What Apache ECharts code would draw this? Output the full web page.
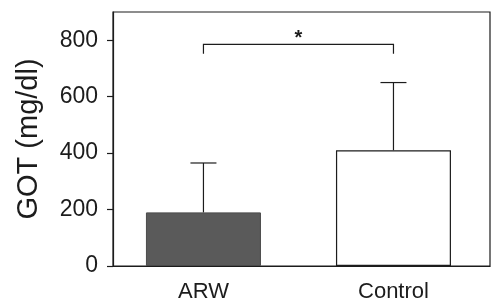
<!DOCTYPE html>
<html>
<head>
<meta charset="utf-8">
<script src="https://cdn.jsdelivr.net/npm/echarts@6/dist/echarts.min.js"></script>
<style>html,body{margin:0;padding:0;background:#fff}#c{width:491px;height:306px}</style>
</head>
<body>
<div id="c"></div>
<script>
const categories = ['ARW', 'Control'];
const means = [190, 410];
const sds = [175, 240];
const yTicks = [0, 200, 400, 600, 800];
const bracket = [0, 1, 785, 752]; // from, to, top value, drop value
const sigLabel = '*';

const chart = echarts.init(document.getElementById('c'), null, {renderer: 'canvas'});
const ink = '#1c1c1c';
const font = 'Liberation Sans, Arial, sans-serif';
const catIdx = categories.map((c, i) => i);
chart.setOption({
  animation: false,
  grid: {left: 113, right: 1, top: 12, bottom: 40, show: true, borderColor: ink, borderWidth: 1.2, backgroundColor: 'transparent'},
  xAxis: {
    type: 'value', min: -0.476, max: 1.508,
    axisLine: {show: true, onZero: false, lineStyle: {color: ink, width: 1.2}},
    axisTick: {show: false},
    splitLine: {show: false},
    axisLabel: {color: ink, fontSize: 22, fontFamily: font, margin: 15, customValues: catIdx,
      formatter: v => categories[Math.round(v)] || ''}
  },
  yAxis: {
    type: 'value', min: 0, max: 900,
    name: 'GOT (mg/dl)', nameLocation: 'middle', nameGap: 70,
    nameTextStyle: {color: ink, fontSize: 29, fontFamily: font},
    axisLine: {show: true, onZero: false, lineStyle: {color: ink, width: 1.2}},
    axisTick: {show: true, length: 6, customValues: yTicks, lineStyle: {color: ink, width: 1.2}},
    axisLabel: {color: ink, fontSize: 23, fontFamily: font, margin: 15, customValues: yTicks},
    splitLine: {show: false}
  },
  series: [
    {
      type: 'bar', barWidth: 115,
      data: means.map((v, i) => ({value: [i, v], itemStyle: i === 0 ? {color: '#5a5a5a', borderColor: '#4a4a4a', borderWidth: 1} : {color: '#ffffff', borderColor: ink, borderWidth: 1.2}}))
    },
    {
      type: 'custom',
      data: means.map((m, i) => [i, m, m + sds[i]]),
      renderItem: function (params, api) {
        const lo = api.coord([api.value(0), api.value(1)]);
        const hi = api.coord([api.value(0), api.value(2)]);
        const half = 13;
        return {
          type: 'group',
          children: [
            {type: 'line', shape: {x1: lo[0], y1: lo[1], x2: hi[0], y2: hi[1]}, style: {stroke: ink, lineWidth: 1.2}},
            {type: 'line', shape: {x1: hi[0] - half, y1: hi[1], x2: hi[0] + half, y2: hi[1]}, style: {stroke: ink, lineWidth: 1.2}}
          ]
        };
      },
      z: 5
    },
    {
      type: 'custom',
      data: [bracket],
      renderItem: function (params, api) {
        const a = api.coord([api.value(0), api.value(3)]);
        const b = api.coord([api.value(0), api.value(2)]);
        const c = api.coord([api.value(1), api.value(2)]);
        const d = api.coord([api.value(1), api.value(3)]);
        return {
          type: 'group',
          children: [
            {type: 'polyline', shape: {points: [a, b, c, d]}, style: {stroke: ink, lineWidth: 1.2, fill: null}},
            {type: 'text', x: (b[0] + c[0]) / 2, y: b[1] + 4, style: {text: sigLabel, fill: ink, fontSize: 20, fontWeight: 'bold', fontFamily: font, align: 'center', verticalAlign: 'bottom'}}
          ]
        };
      },
      z: 5
    }
  ]
});
</script>
</body>
</html>
